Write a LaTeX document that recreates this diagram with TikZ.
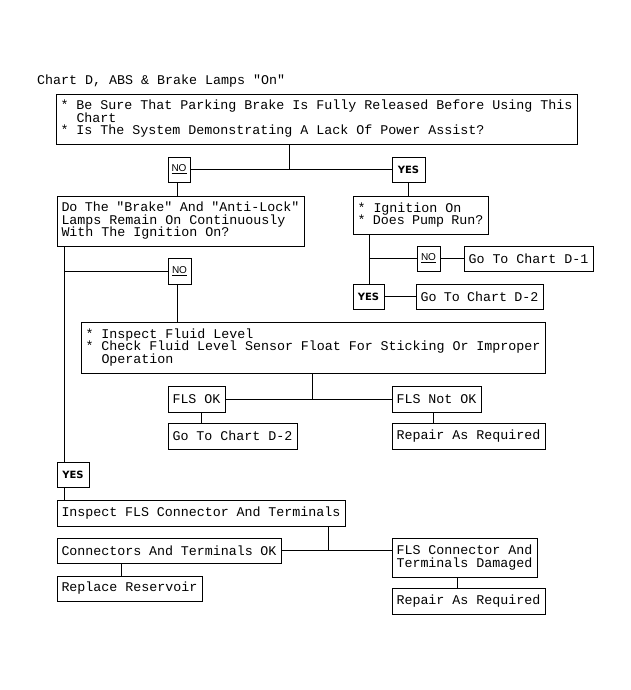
\documentclass[tikz,border=0pt]{standalone}
\usepackage{fontspec}
\newfontfamily\monofam{Liberation Mono}
\newfontfamily\yesfam{DejaVu Sans}
\newfontfamily\nofam{Liberation Sans}
\newcommand\mfont{\monofam\fontsize{13.33}{12.5}\selectfont}
\newcommand\yfont{\yesfam\bfseries\fontsize{10}{12}\selectfont}
\newcommand\nfont{\nofam\fontsize{10}{11}\selectfont}
\newcommand\fixsp{\spaceskip=0pt\xspaceskip=0pt\relax}
\tikzset{
  box/.style={draw, line width=0.9pt, anchor=north west, inner xsep=4.5pt, inner ysep=0pt,
    outer sep=0pt, font=\mfont, align=left},
  lbox/.style={draw, line width=0.9pt, anchor=north west, inner sep=0pt, outer sep=0pt,
    align=center},
  conn/.style={line width=0.9pt}
}
\newcommand\bx[6]{%
  \pgfmathsetlengthmacro\tw{#4-#2-9}%
  \pgfmathsetlengthmacro\bh{#5-#3}%
  \node[box, text width=\tw, minimum height=\bh] (#1) at (#2,#3) {\fixsp #6};}
\newcommand\lb[7]{%
  \pgfmathsetlengthmacro\lw{#4-#2}%
  \pgfmathsetlengthmacro\bh{#5-#3}%
  \node[lbox, minimum width=\lw, minimum height=\bh, font=#7] (#1) at (#2,#3) {#6};}
\begin{document}
\begin{tikzpicture}[x=1pt,y=-1pt]
\useasboundingbox (0,0) rectangle (631,690);
\node[anchor=base west, inner sep=0pt, font=\mfont] (title) at (37,85) {Chart D, ABS \& Brake Lamps "On"};
% boxes
\bx{top}{56}{94}{577}{144}{* Be Sure That Parking Brake Is Fully Released Before Using This\\\phantom{*\ }Chart\\{}* Is The System Demonstrating A Lack Of Power Assist?}
\lb{no1}{168}{157}{190}{182}{\underline{NO}}{\nfont}
\lb{yes1}{392}{157}{425}{182}{YES}{\yfont}
\bx{q1}{57}{196}{304}{246}{Do The "Brake" And "Anti-Lock"\\Lamps Remain On Continuously\\With The Ignition On?}
\bx{ign}{353}{196}{488}{234}{* Ignition On\\{}* Does Pump Run?}
\lb{no2}{417}{246}{440}{271}{\underline{NO}}{\nfont}
\bx{d1}{464}{246}{593}{271}{Go To Chart D-1}
\lb{yes2}{353}{284}{384}{309}{YES}{\yfont}
\bx{d2a}{416}{284}{543}{309}{Go To Chart D-2}
\lb{no3}{168}{258}{191}{284}{\underline{NO}}{\nfont}
\bx{fluid}{81}{322}{545}{373}{* Inspect Fluid Level\\{}* Check Fluid Level Sensor Float For Sticking Or Improper\\\phantom{*\ }Operation}
\bx{flsok}{168}{386}{225}{412}{FLS OK}
\bx{flsnok}{392}{386}{481}{412}{FLS Not OK}
\bx{d2b}{168}{423}{297}{449}{Go To Chart D-2}
\bx{rep1}{392}{423}{545}{449}{Repair As Required}
\lb{yes3}{57}{462}{89}{487}{YES}{\yfont}
\bx{insp}{57}{500}{345}{526}{Inspect FLS Connector And Terminals}
\bx{cok}{57}{538}{281}{563}{Connectors And Terminals OK}
\bx{dmg}{392}{538}{537}{577}{FLS Connector And\\Terminals Damaged}
\bx{repl}{57}{576}{202}{601}{Replace Reservoir}
\bx{rep2}{392}{588}{545}{614}{Repair As Required}
% junction x positions
\coordinate (X289) at (289,0);
\coordinate (X369) at (369,0);
\coordinate (X64) at (64,0);
\coordinate (X177) at (177,0);
\coordinate (X312) at (312,0);
\coordinate (X201) at (201,0);
\coordinate (X433) at (433,0);
\coordinate (X328) at (328,0);
\coordinate (X121) at (121,0);
\coordinate (X457) at (457,0);
% connectors
\draw[conn] (top.south -| X289) -- (X289 |- no1.east);
\draw[conn] (no1.east) -- (yes1.west);
\draw[conn] (no1.south -| X177) -- (X177 |- q1.north);
\draw[conn] (yes1.south) -- (yes1.south |- ign.north);
\draw[conn] (ign.south -| X369) -- (X369 |- yes2.north);
\draw[conn] (X369 |- no2.west) -- (no2.west);
\draw[conn] (no2.east) -- (d1.west);
\draw[conn] (yes2.east) -- (d2a.west);
\draw[conn] (q1.south -| X64) -- (X64 |- yes3.north);
\draw[conn] (X64 |- no3.west) -- (no3.west);
\draw[conn] (no3.south -| X177) -- (X177 |- fluid.north);
\draw[conn] (fluid.south -| X312) -- (X312 |- flsok.east);
\draw[conn] (flsok.east) -- (flsnok.west);
\draw[conn] (flsok.south -| X201) -- (X201 |- d2b.north);
\draw[conn] (flsnok.south -| X433) -- (X433 |- rep1.north);
\draw[conn] (yes3.south -| X64) -- (X64 |- insp.north);
\draw[conn] (insp.south -| X328) -- (X328 |- cok.east);
\draw[conn] (cok.east) -- (cok.east -| dmg.west);
\draw[conn] (cok.south -| X121) -- (X121 |- repl.north);
\draw[conn] (dmg.south -| X457) -- (X457 |- rep2.north);
\end{tikzpicture}
\end{document}
